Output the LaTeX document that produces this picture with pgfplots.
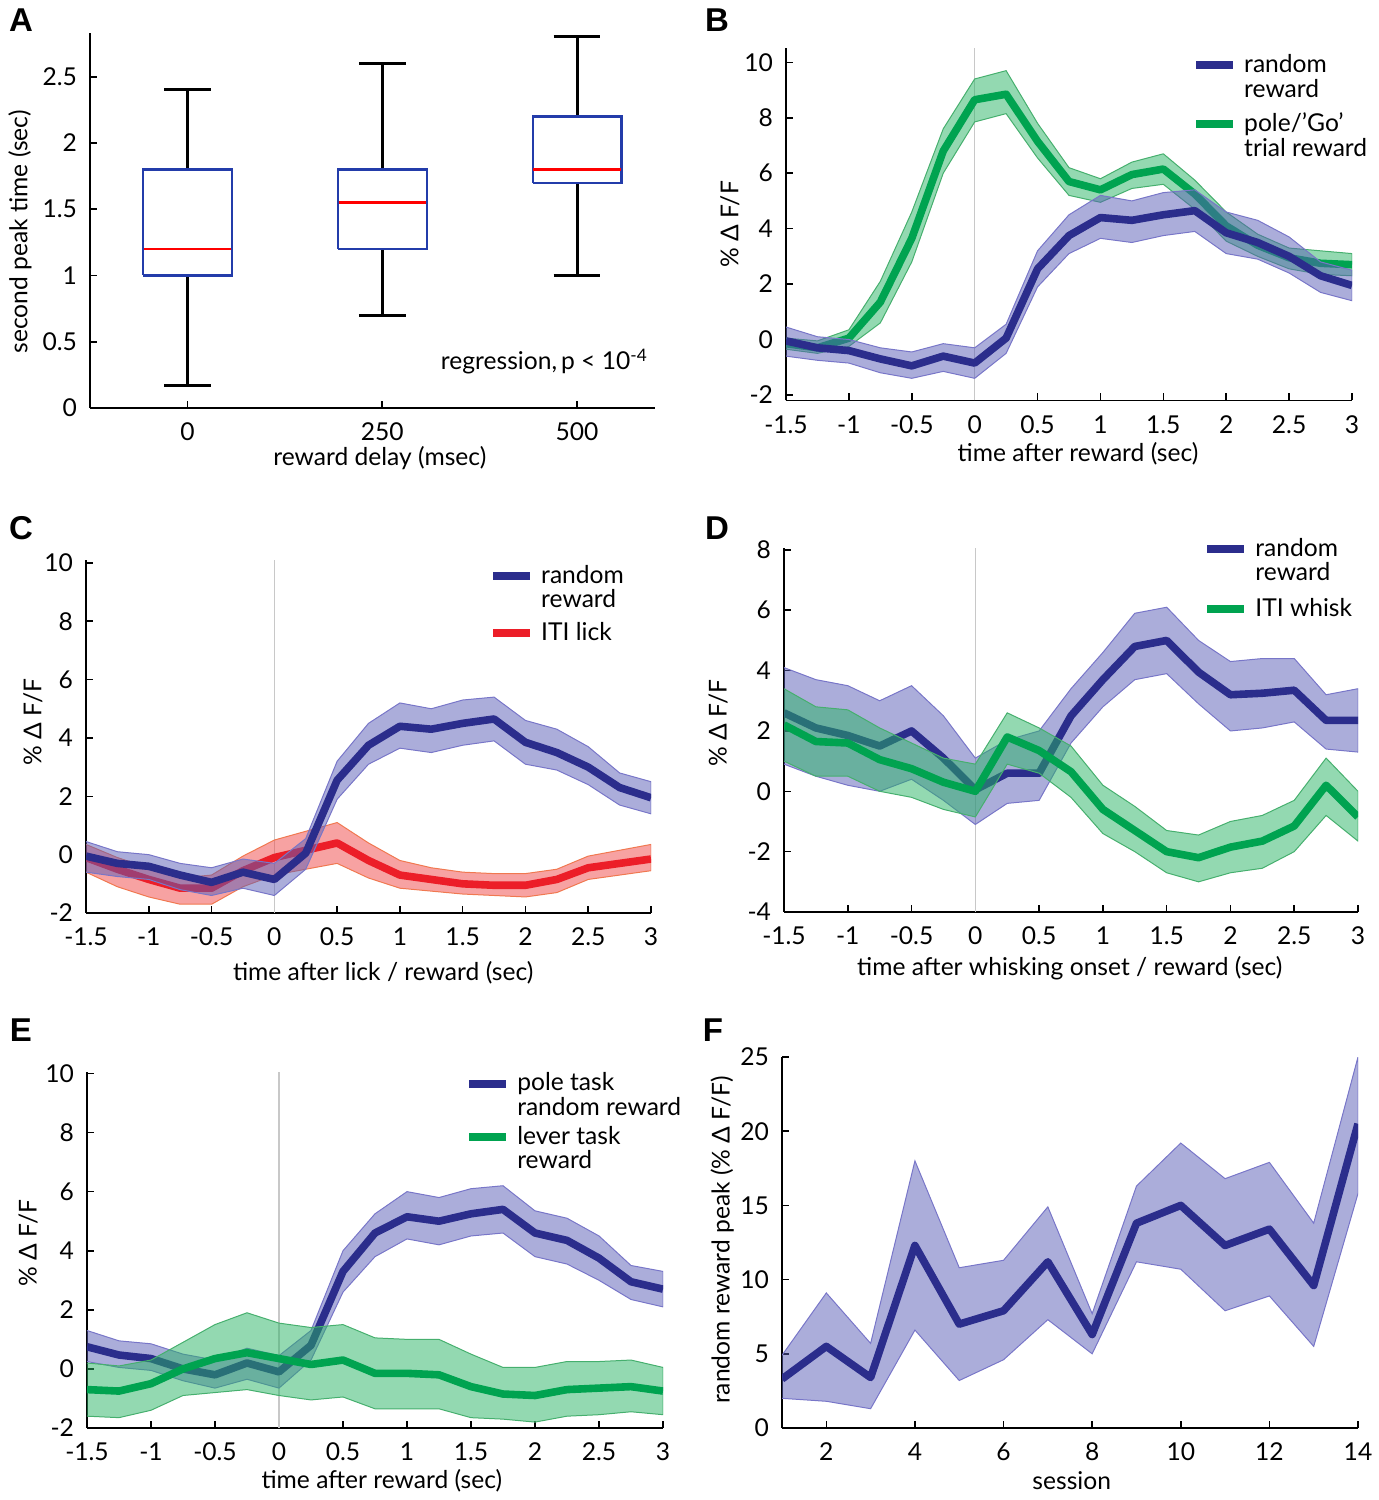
\documentclass[border=0pt]{standalone}
\usepackage{fontspec}
\setmainfont{Lato}
\newfontfamily\lblfont{Liberation Sans}
\usepackage{pgfplots}
\pgfplotsset{compat=1.18}
\usepackage{pgfplotstable}

\definecolor{navy}{RGB}{43,45,140}
\definecolor{bandblue}{RGB}{88,92,182}
\definecolor{edgeblue}{RGB}{120,118,200}
\definecolor{lgreen}{RGB}{0,163,80}
\definecolor{bandgreen}{RGB}{40,180,100}
\definecolor{edgegreen}{RGB}{70,175,110}
\definecolor{lred}{RGB}{236,30,40}
\definecolor{bandred}{RGB}{240,70,70}
\definecolor{edgered}{RGB}{240,120,80}
\definecolor{boxblue}{RGB}{35,60,170}
\definecolor{zeroline}{RGB}{200,200,200}

% mean traces (time, series means)
\pgfplotstableread{
t bm gm
-1.5 -0.05 -0.15
-1.25 -0.3 -0.3
-1.0 -0.4 0.05
-0.75 -0.7 1.35
-0.5 -0.95 3.65
-0.25 -0.6 6.8
0 -0.85 8.65
0.25 0.05 8.85
0.5 2.55 7.15
0.75 3.75 5.7
1.0 4.4 5.4
1.25 4.3 5.95
1.5 4.5 6.15
1.75 4.65 5.25
2.0 3.85 4.1
2.25 3.5 3.4
2.5 3.0 2.95
2.75 2.3 2.75
3.0 1.95 2.7
}\tabB

\pgfplotstableread{
t rm
-1.5 -0.1
-1.25 -0.5
-1.0 -0.85
-0.75 -1.15
-0.5 -1.15
-0.25 -0.55
0 -0.1
0.25 0.15
0.5 0.4
0.75 -0.2
1.0 -0.7
1.25 -0.85
1.5 -1.0
1.75 -1.05
2.0 -1.05
2.25 -0.85
2.5 -0.45
2.75 -0.3
3.0 -0.15
}\tabC

\pgfplotstableread{
t bm gm
-1.5 2.6 2.2
-1.25 2.1 1.65
-1.0 1.85 1.6
-0.75 1.5 1.05
-0.5 2.0 0.75
-0.25 1.1 0.3
0 0.05 0.0
0.25 0.6 1.8
0.5 0.6 1.35
0.75 2.5 0.65
1.0 3.7 -0.6
1.25 4.8 -1.3
1.5 5.0 -2.0
1.75 3.95 -2.2
2.0 3.2 -1.85
2.25 3.25 -1.65
2.5 3.35 -1.15
2.75 2.35 0.2
3.0 2.35 -0.85
}\tabD

\pgfplotstableread{
t bm gm
-1.5 0.75 -0.7
-1.25 0.47 -0.75
-1.0 0.35 -0.5
-0.75 0.0 0.0
-0.5 -0.2 0.35
-0.25 0.2 0.55
0 -0.1 0.35
0.25 0.8 0.15
0.5 3.3 0.3
0.75 4.6 -0.15
1.0 5.15 -0.15
1.25 5.0 -0.2
1.5 5.25 -0.6
1.75 5.4 -0.85
2.0 4.6 -0.9
2.25 4.35 -0.7
2.5 3.75 -0.65
2.75 2.95 -0.6
3.0 2.7 -0.75
}\tabE

\pgfplotstableread{
t m
1 3.3
2 5.5
3 3.4
4 12.3
5 7.0
6 7.9
7 11.2
8 6.3
9 13.8
10 15.0
11 12.3
12 13.4
13 9.6
14 20.5
}\tabF

\newcommand\mline[3]{\addplot[#3, line width=3.8pt, line join=round, forget plot] table[x=t,y=#2]{#1};}

\newcommand\fs{\fontsize{12.3}{12.3}\selectfont}

\pgfplotsset{
 panel/.style={scale only axis, axis lines=left, axis line style={-, line width=0.8pt},
   tick style={black, line width=0.8pt}, major tick length=3.5pt, tick align=inside,
   tick label style={font=\fs}, label style={font=\fs},
   xticklabel style={yshift=-4pt}, yticklabel style={xshift=-3pt},
   /pgf/number format/assume math mode=true,
   legend style={draw=none, fill=none, anchor=north west, inner sep=0pt, font=\fs,
     cells={anchor=west}, row sep=2pt, column sep=1.5pt},
 },
 tpanel/.style={panel, xmin=-1.5, xmax=3, xtick={-1.5,-1,-0.5,0,0.5,1,1.5,2,2.5,3}},
 legtwo/.style={legend image code/.code={\draw[line width=4pt, draw=#1] (0pt,6pt) -- (18.5pt,6pt);}},
 legone/.style={legend image code/.code={\draw[line width=4pt, draw=#1] (0pt,0pt) -- (18.5pt,0pt);}},
 bandb/.style={fill=bandblue, fill opacity=0.5, draw=edgeblue, line width=0.5pt, forget plot},
 bandg/.style={fill=bandgreen, fill opacity=0.5, draw=edgegreen, line width=0.5pt, forget plot},
 bandr/.style={fill=bandred, fill opacity=0.5, draw=edgered, line width=0.5pt, forget plot},
 whisk/.style={black, line width=1.5pt, forget plot},
 boxs/.style={boxblue, line width=1.1pt, forget plot},
 meds/.style={red, line width=1.3pt, forget plot},
}
\newcommand\two[2]{\vbox{\baselineskip=12.2pt\hbox{#1}\hbox{#2}}}

\begin{document}
\begin{tikzpicture}
\path[use as bounding box] (0pt,0pt) rectangle (689.5pt,750pt);

% ---------------- A
\begin{axis}[panel, at={(45pt,546pt)}, anchor=south west, width=282.5pt, height=187.5pt,
  xmin=-125, xmax=600, ymin=0, ymax=2.83, xtick={0,250,500}, ytick={0,0.5,1,1.5,2,2.5},
  xlabel={reward delay (msec)}, ylabel={second peak time (sec)},
  xlabel style={at={(axis description cs:0.513,-0.133)}, anchor=center},
  ylabel style={at={(axis description cs:-0.124,0.47)}, anchor=center}]
\addplot[whisk] coordinates {(0,1) (0,0.17)};
\addplot[whisk] coordinates {(0,1.8) (0,2.4)};
\addplot[whisk] coordinates {(-30,0.17) (30,0.17)};
\addplot[whisk] coordinates {(-30,2.4) (30,2.4)};
\addplot[boxs] coordinates {(-57,1) (57,1) (57,1.8) (-57,1.8) (-57,1)};
\addplot[meds] coordinates {(-56,1.2) (56,1.2)};
\addplot[whisk] coordinates {(250,1.2) (250,0.7)};
\addplot[whisk] coordinates {(250,1.8) (250,2.6)};
\addplot[whisk] coordinates {(220,0.7) (280,0.7)};
\addplot[whisk] coordinates {(220,2.6) (280,2.6)};
\addplot[boxs] coordinates {(193,1.2) (307,1.2) (307,1.8) (193,1.8) (193,1.2)};
\addplot[meds] coordinates {(194,1.55) (306,1.55)};
\addplot[whisk] coordinates {(500,1.7) (500,1.0)};
\addplot[whisk] coordinates {(500,2.2) (500,2.8)};
\addplot[whisk] coordinates {(470,1.0) (530,1.0)};
\addplot[whisk] coordinates {(470,2.8) (530,2.8)};
\addplot[boxs] coordinates {(443,1.7) (557,1.7) (557,2.2) (443,2.2) (443,1.7)};
\addplot[meds] coordinates {(444,1.8) (556,1.8)};
\node[font=\fs] at (axis cs:458,0.35) {regression,\,p < 10\textsuperscript{-4}};
\end{axis}

% ---------------- B
\begin{axis}[tpanel, at={(393pt,549.75pt)}, anchor=south west, width=283pt, height=176pt,
  ymin=-2.2, ymax=10.5, ytick={-2,0,2,4,6,8,10},
  xlabel={time after reward (sec)}, ylabel={\% Δ F/F},
  xlabel style={at={(axis description cs:0.516,-0.15)}, anchor=center},
  ylabel style={at={(axis description cs:-0.099,0.5)}, anchor=center},
  legend style={at={(0.717,0.995)}, row sep=2.5pt}]
\addlegendimage{legtwo=navy}\addlegendentry{\two{random}{reward}}
\addlegendimage{legtwo=lgreen}\addlegendentry{\two{pole/’Go’}{trial reward}}
\addplot[zeroline, line width=0.8pt, forget plot] coordinates {(0,-2.2) (0,10.5)};
\addplot[bandg] coordinates {(-1.5,0.05)(-1.25,-0.05)(-1,0.35)(-0.75,2.1)(-0.5,4.6)(-0.25,7.6)(0,9.4)(0.25,9.7)(0.5,7.8)(0.75,6.2)(1,5.8)(1.25,6.4)(1.5,6.7)(1.75,5.75)(2,4.6)(2.25,3.8)(2.5,3.3)(2.75,3.2)(3,3.1)
 (3,2.3)(2.75,2.35)(2.5,2.55)(2.25,3.0)(2,3.55)(1.75,4.7)(1.5,5.6)(1.25,5.45)(1,4.95)(0.75,5.2)(0.5,6.55)(0.25,8.15)(0,7.85)(-0.25,6.0)(-0.5,2.8)(-0.75,0.6)(-1,-0.25)(-1.25,-0.5)(-1.5,-0.35)};
\mline{\tabB}{gm}{lgreen}
\addplot[bandb] coordinates {(-1.5,0.45)(-1.25,0.1)(-1,0.0)(-0.75,-0.3)(-0.5,-0.45)(-0.25,-0.15)(0,-0.3)(0.25,0.55)(0.5,3.2)(0.75,4.5)(1,5.2)(1.25,5.0)(1.5,5.3)(1.75,5.4)(2,4.6)(2.25,4.3)(2.5,3.7)(2.75,2.8)(3,2.5)
 (3,1.4)(2.75,1.7)(2.5,2.4)(2.25,2.9)(2,3.1)(1.75,3.9)(1.5,3.75)(1.25,3.5)(1,3.65)(0.75,3.1)(0.5,1.9)(0.25,-0.5)(0,-1.4)(-0.25,-1.15)(-0.5,-1.4)(-0.75,-1.2)(-1,-0.85)(-1.25,-0.75)(-1.5,-0.6)};
\mline{\tabB}{bm}{navy}
\end{axis}

% ---------------- C
\begin{axis}[tpanel, at={(43pt,293.5pt)}, anchor=south west, width=282.5pt, height=176.5pt,
  ymin=-2, ymax=10.1, ytick={-2,0,2,4,6,8,10},
  xlabel={time after lick / reward (sec)}, ylabel={\% Δ F/F},
  xlabel style={at={(axis description cs:0.526,-0.169)}, anchor=center},
  ylabel style={at={(axis description cs:-0.094,0.54)}, anchor=center},
  legend style={at={(0.713,0.997)}, row sep=1.5pt}]
\addlegendimage{legtwo=navy}\addlegendentry{\two{random}{reward}}
\addlegendimage{legone=lred}\addlegendentry{ITI lick}
\addplot[zeroline, line width=0.8pt, forget plot] coordinates {(0,-2) (0,10.1)};
\addplot[bandr] coordinates {(-1.5,0.35)(-1.25,-0.1)(-1,-0.45)(-0.75,-0.8)(-0.5,-0.7)(-0.25,-0.05)(0,0.5)(0.25,0.8)(0.5,1.1)(0.75,0.4)(1,-0.2)(1.25,-0.45)(1.5,-0.6)(1.75,-0.65)(2,-0.65)(2.25,-0.5)(2.5,-0.05)(2.75,0.15)(3,0.35)
 (3,-0.55)(2.75,-0.7)(2.5,-0.85)(2.25,-1.3)(2,-1.45)(1.75,-1.4)(1.5,-1.35)(1.25,-1.25)(1,-1.15)(0.75,-0.8)(0.5,-0.3)(0.25,-0.5)(0,-0.7)(-0.25,-1.1)(-0.5,-1.7)(-0.75,-1.7)(-1,-1.45)(-1.25,-1.1)(-1.5,-0.6)};
\mline{\tabC}{rm}{lred}
\addplot[bandb] coordinates {(-1.5,0.45)(-1.25,0.1)(-1,0.0)(-0.75,-0.3)(-0.5,-0.45)(-0.25,-0.15)(0,-0.3)(0.25,0.55)(0.5,3.2)(0.75,4.5)(1,5.2)(1.25,5.0)(1.5,5.3)(1.75,5.4)(2,4.6)(2.25,4.3)(2.5,3.7)(2.75,2.8)(3,2.5)
 (3,1.4)(2.75,1.7)(2.5,2.4)(2.25,2.9)(2,3.1)(1.75,3.9)(1.5,3.75)(1.25,3.5)(1,3.65)(0.75,3.1)(0.5,1.9)(0.25,-0.5)(0,-1.4)(-0.25,-1.15)(-0.5,-1.4)(-0.75,-1.2)(-1,-0.85)(-1.25,-0.75)(-1.5,-0.6)};
\mline{\tabB}{bm}{navy}
\end{axis}

% ---------------- D
\begin{axis}[tpanel, at={(392pt,294pt)}, anchor=south west, width=287pt, height=181.8pt,
  ymin=-4, ymax=8.05, ytick={-4,-2,0,2,4,6,8},
  xlabel={time after whisking onset / reward (sec)}, ylabel={\% Δ F/F},
  xlabel style={at={(axis description cs:0.498,-0.155)}, anchor=center},
  ylabel style={at={(axis description cs:-0.115,0.52)}, anchor=center},
  legend style={at={(0.73,1.04)}, row sep=3.5pt}]
\addlegendimage{legtwo=navy}\addlegendentry{\two{random}{reward}}
\addlegendimage{legone=lgreen}\addlegendentry{ITI whisk}
\addplot[zeroline, line width=0.8pt, forget plot] coordinates {(0,-4) (0,8.05)};
\addplot[bandb] coordinates {(-1.5,4.1)(-1.25,3.7)(-1,3.5)(-0.75,3.0)(-0.5,3.5)(-0.25,2.5)(0,1.1)(0.25,1.7)(0.5,2.0)(0.75,3.4)(1,4.6)(1.25,5.9)(1.5,6.1)(1.75,5.0)(2,4.3)(2.25,4.4)(2.5,4.4)(2.75,3.2)(3,3.4)
 (3,1.3)(2.75,1.4)(2.5,2.3)(2.25,2.1)(2,2.0)(1.75,2.9)(1.5,3.9)(1.25,3.7)(1,2.8)(0.75,1.6)(0.5,-0.3)(0.25,-0.4)(0,-1.1)(-0.25,-0.3)(-0.5,0.4)(-0.75,0.0)(-1,0.2)(-1.25,0.5)(-1.5,0.9)};
\mline{\tabD}{bm}{navy}
\addplot[bandg] coordinates {(-1.5,3.4)(-1.25,2.8)(-1,2.7)(-0.75,2.1)(-0.5,1.6)(-0.25,1.1)(0,0.9)(0.25,2.6)(0.5,2.1)(0.75,1.5)(1,0.2)(1.25,-0.5)(1.5,-1.3)(1.75,-1.45)(2,-1.0)(2.25,-0.8)(2.5,-0.3)(2.75,1.1)(3,0.0)
 (3,-1.65)(2.75,-0.8)(2.5,-2.0)(2.25,-2.55)(2,-2.7)(1.75,-3.0)(1.5,-2.7)(1.25,-2.0)(1,-1.4)(0.75,-0.2)(0.5,0.6)(0.25,0.9)(0,-0.85)(-0.25,-0.6)(-0.5,-0.2)(-0.75,0.0)(-1,0.5)(-1.25,0.5)(-1.5,1.0)};
\mline{\tabD}{gm}{lgreen}
\end{axis}

% ---------------- E
\begin{axis}[tpanel, at={(43.5pt,36pt)}, anchor=south west, width=288pt, height=178pt,
  ymin=-2, ymax=10.05, ytick={-2,0,2,4,6,8,10},
  xlabel={time after reward (sec)}, ylabel={\% Δ F/F},
  xlabel style={at={(axis description cs:0.512,-0.149)}, anchor=center},
  ylabel style={at={(axis description cs:-0.102,0.52)}, anchor=center},
  legend style={at={(0.656,1.01)}, row sep=0pt}]
\addlegendimage{legtwo=navy}\addlegendentry{\two{pole task}{random reward}}
\addlegendimage{legtwo=lgreen}\addlegendentry{\two{lever task}{reward}}
\addplot[zeroline, line width=0.8pt, forget plot] coordinates {(0,-2) (0,10.05)};
\addplot[bandb] coordinates {(-1.5,1.3)(-1.25,0.95)(-1,0.85)(-0.75,0.5)(-0.5,0.3)(-0.25,0.7)(0,0.45)(0.25,1.3)(0.5,4.0)(0.75,5.25)(1,6.0)(1.25,5.8)(1.5,6.1)(1.75,6.2)(2,5.35)(2.25,5.1)(2.5,4.5)(2.75,3.5)(3,3.3)
 (3,2.1)(2.75,2.35)(2.5,3.0)(2.25,3.55)(2,3.8)(1.75,4.6)(1.5,4.5)(1.25,4.2)(1,4.4)(0.75,3.8)(0.5,2.6)(0.25,0.3)(0,-0.65)(-0.25,-0.35)(-0.5,-0.65)(-0.75,-0.4)(-1,-0.05)(-1.25,0.05)(-1.5,0.25)};
\mline{\tabE}{bm}{navy}
\addplot[bandg] coordinates {(-1.5,0.2)(-1.25,0.1)(-1,0.3)(-0.75,0.9)(-0.5,1.5)(-0.25,1.9)(0,1.55)(0.25,1.4)(0.5,1.5)(0.75,1.05)(1,1.0)(1.25,1.0)(1.5,0.5)(1.75,0.05)(2,0.05)(2.25,0.25)(2.5,0.25)(2.75,0.3)(3,0.05)
 (3,-1.55)(2.75,-1.45)(2.5,-1.55)(2.25,-1.6)(2,-1.8)(1.75,-1.7)(1.5,-1.65)(1.25,-1.35)(1,-1.35)(0.75,-1.35)(0.5,-0.95)(0.25,-1.05)(0,-0.9)(-0.25,-0.7)(-0.5,-0.8)(-0.75,-0.9)(-1,-1.4)(-1.25,-1.65)(-1.5,-1.6)};
\mline{\tabE}{gm}{lgreen}
\end{axis}

% ---------------- F
\begin{axis}[panel, at={(391pt,36pt)}, anchor=south west, width=288pt, height=185.5pt,
  xmin=1, xmax=14, ymin=0, ymax=25, xtick={2,4,6,8,10,12,14}, ytick={0,5,10,15,20,25},
  xlabel={session}, ylabel={random reward peak (\% Δ F/F)},
  xlabel style={at={(axis description cs:0.503,-0.143)}, anchor=center},
  ylabel style={at={(axis description cs:-0.104,0.507)}, anchor=center}]
\addplot[bandb] coordinates {(1,4.9)(2,9.1)(3,5.7)(4,18.0)(5,10.8)(6,11.3)(7,14.9)(8,7.7)(9,16.3)(10,19.2)(11,16.8)(12,17.9)(13,13.8)(14,25.0)
 (14,15.8)(13,5.5)(12,8.9)(11,7.9)(10,10.7)(9,11.2)(8,5.0)(7,7.3)(6,4.6)(5,3.2)(4,6.6)(3,1.3)(2,1.8)(1,2.0)};
\mline{\tabF}{m}{navy}
\end{axis}

\foreach \l/\x/\y in {A/10.5/740, B/358.5/740, C/10.5/486, D/358.5/486, E/10.5/235, F/356.5/235}
  \node[font=\lblfont\bfseries\fontsize{16.5}{16.5}\selectfont] at (\x pt,\y pt) {\l};
\end{tikzpicture}
\end{document}
